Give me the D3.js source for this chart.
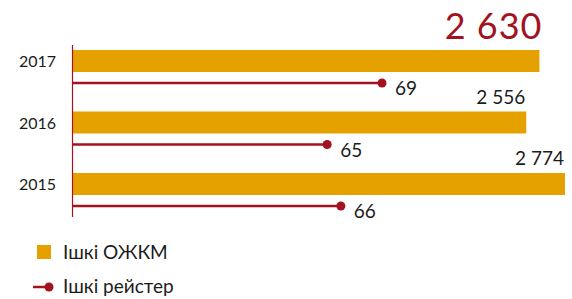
<!DOCTYPE html>
<html><head><meta charset="utf-8">
<script src="https://cdn.jsdelivr.net/npm/d3@7"></script>
<style>
html,body{margin:0;padding:0;background:#fff;}
svg{display:block;font-family:Lato,"Open Sans",sans-serif;}
</style></head>
<body><svg id="c" width="572" height="299"></svg>
<script>
const years = ["2017", "2016", "2015"];
const ozhkmValues = [2630, 2556, 2774];
const ozhkmLabels = ["2 630", "2 556", "2 774"];
const registerValues = [69, 65, 66];
const registerLabels = ["69", "65", "66"];
const legendLabels = ["Ішкі ОЖКМ", "Ішкі рейстер"];

const orange = "#E5A100", red = "#A3121F", ink = "#1b1b1b";
const svg = d3.select("#c");

const x = d3.scaleLinear().domain([0, 2774]).range([72, 565]);
// register series drawn on its own scale
const xr = d3.scaleLinear().domain([65.5, 69]).range([334, 382]);
const y = d3.scaleBand().domain(years).range([50, 234.5]).paddingInner(0);

const barH = 22;
const g = svg.append("g");

years.forEach((yr, i) => {
  const y0 = y(yr);
  g.append("rect").attr("x", x(0)).attr("y", y0).attr("width", x(ozhkmValues[i]) - x(0)).attr("height", barH).attr("fill", orange);
  const big = i === 0;
  g.append("text").attr("x", big ? x(ozhkmValues[i]) + 3 : x(ozhkmValues[i]) - 1)
    .attr("y", big ? y0 - 11 : y0 - 8)
    .attr("text-anchor", "end")
    .attr("fill", big ? red : ink)
    .attr("font-size", big ? 36 : 19)
    .attr("letter-spacing", big ? 1 : 0)
    .text(ozhkmLabels[i]);
  g.append("text").attr("x", 56).attr("y", y0 + 17).attr("text-anchor", "end")
    .attr("fill", ink).attr("font-size", 16).text(yr);
  const ly = y0 + 33;
  g.append("line").attr("x1", x(0)).attr("x2", xr(registerValues[i])).attr("y1", ly).attr("y2", ly)
    .attr("stroke", red).attr("stroke-width", 2.5);
  g.append("circle").attr("cx", xr(registerValues[i])).attr("cy", ly).attr("r", 4.5).attr("fill", red);
  g.append("text").attr("x", xr(registerValues[i]) + 13).attr("y", ly + 12)
    .attr("fill", ink).attr("font-size", 19).text(registerLabels[i]);
});

svg.append("line").attr("x1", 72.5).attr("x2", 72.5).attr("y1", 45).attr("y2", 217)
  .attr("stroke", red).attr("stroke-width", 1.2);

const lg = svg.append("g");
lg.append("rect").attr("x", 37).attr("y", 245).attr("width", 14).attr("height", 14).attr("fill", orange);
lg.append("text").attr("x", 63).attr("y", 259).attr("fill", ink).attr("font-size", 19).text(legendLabels[0]);
lg.append("line").attr("x1", 33).attr("x2", 49).attr("y1", 287).attr("y2", 287).attr("stroke", red).attr("stroke-width", 2.5);
lg.append("circle").attr("cx", 49).attr("cy", 287).attr("r", 4.5).attr("fill", red);
lg.append("text").attr("x", 63).attr("y", 293).attr("fill", ink).attr("font-size", 19).text(legendLabels[1]);
</script></body></html>
